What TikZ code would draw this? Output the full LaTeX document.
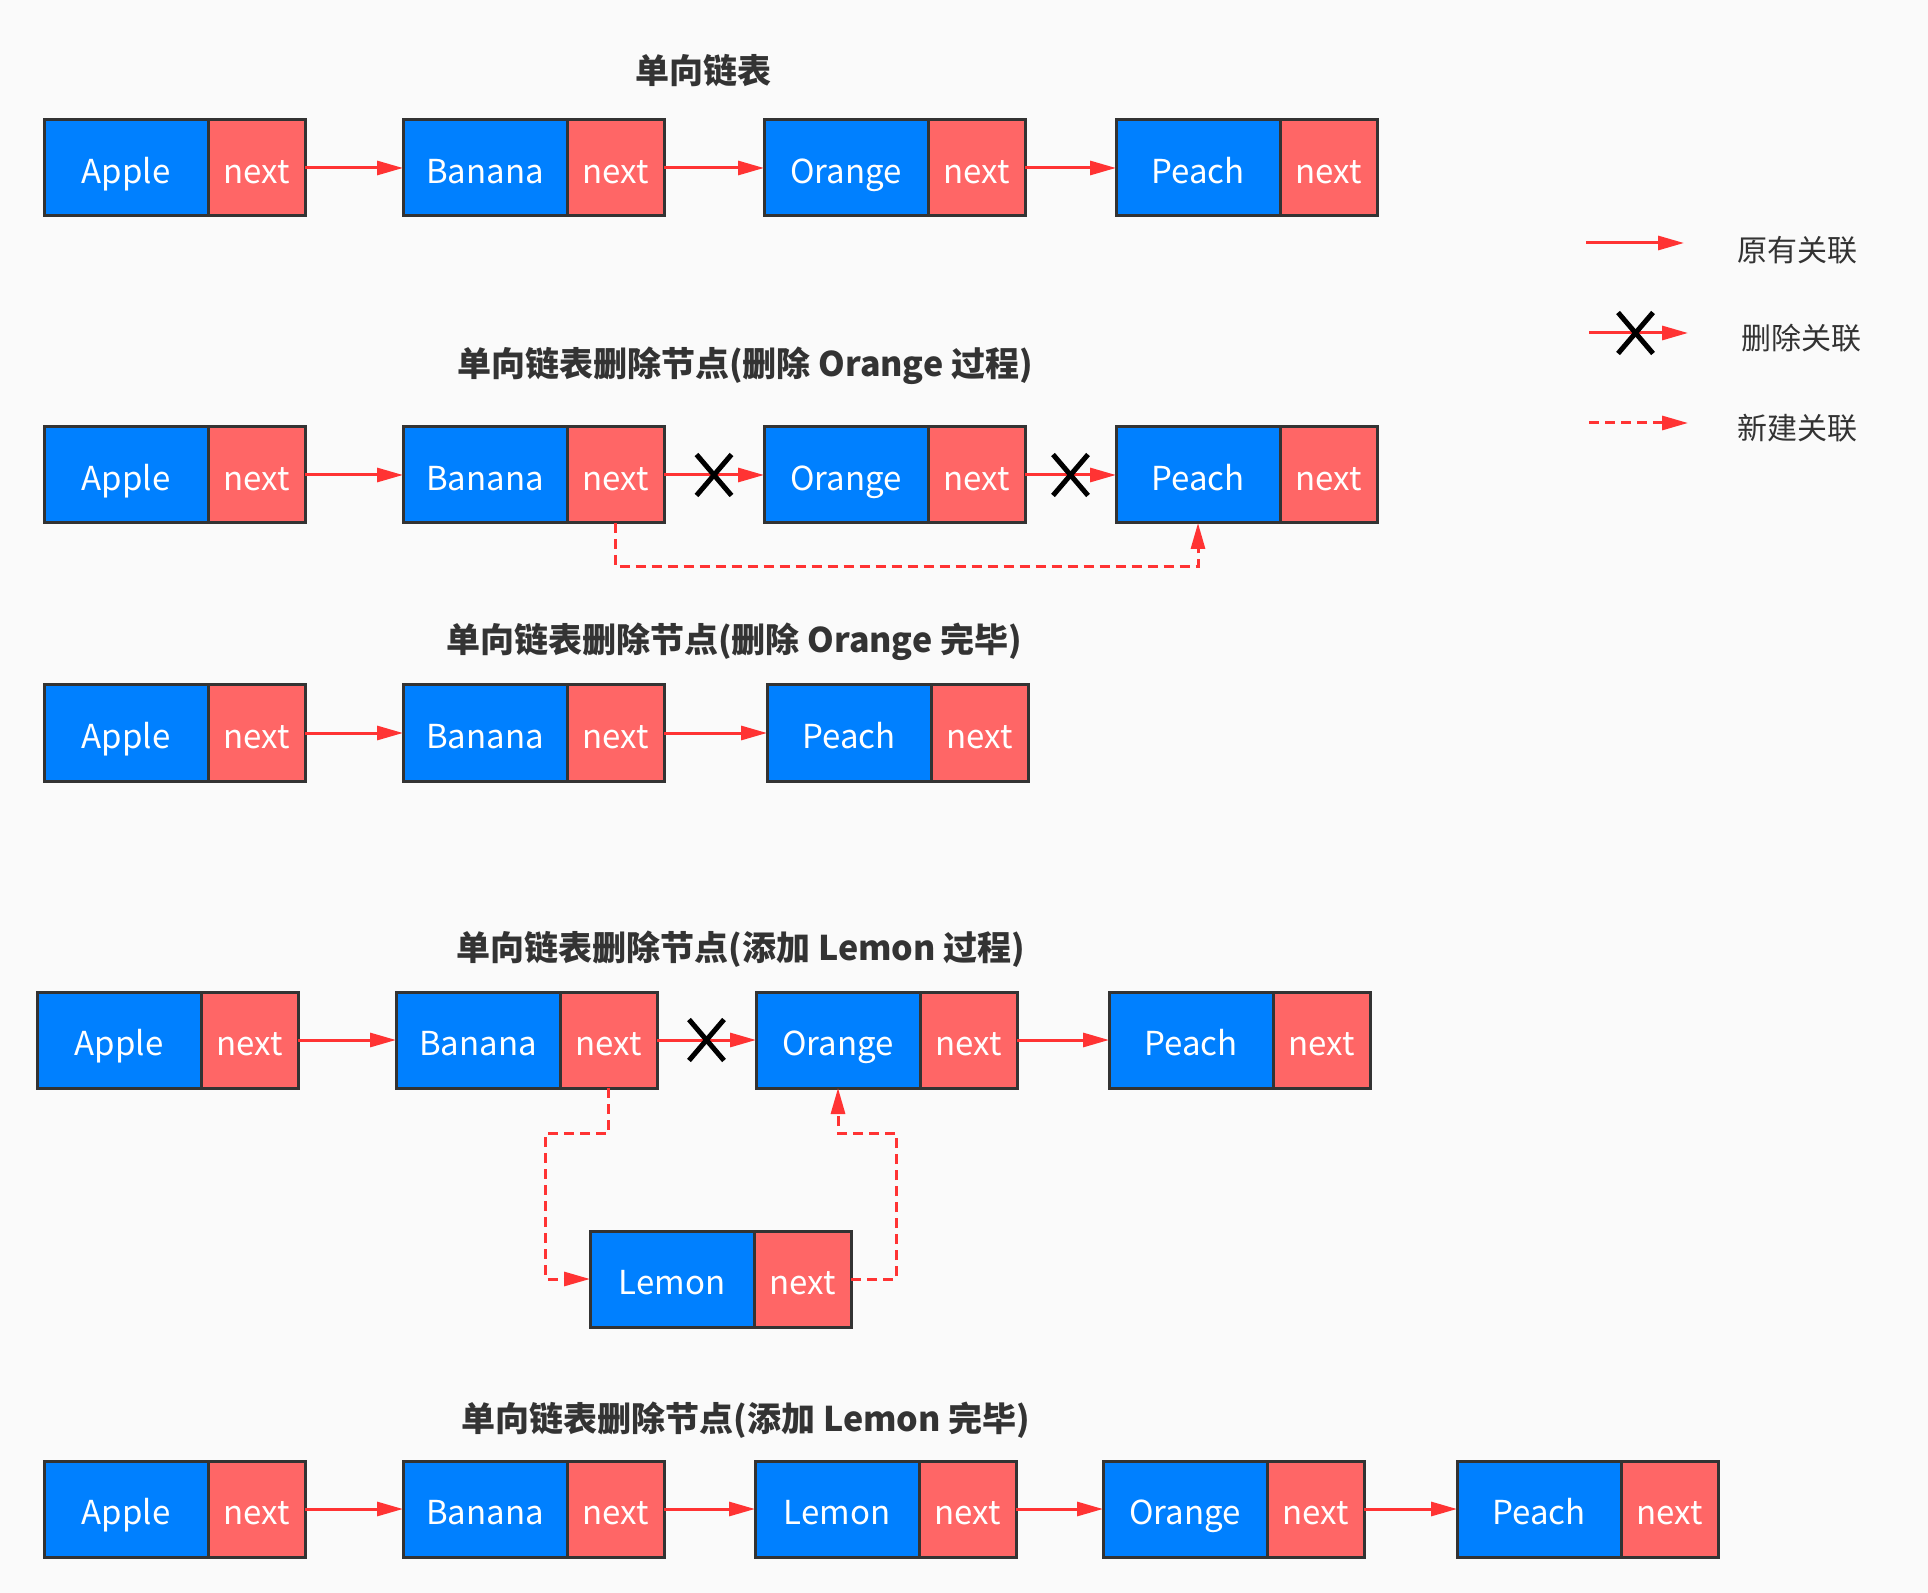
\documentclass[tikz,border=0pt]{standalone}
\usepackage{fontspec}
\setmainfont{Noto Sans CJK SC}
\usepackage{xcolor}
\usepackage{tikz}
\usetikzlibrary{arrows.meta}
\usetikzlibrary{positioning}
\usetikzlibrary{shapes.misc}
\definecolor{valcolor}{HTML}{0080FF}
\definecolor{nextcolor}{HTML}{FF6666}
\definecolor{linkcolor}{HTML}{FF3333}
\definecolor{edgecolor}{HTML}{333333}
\definecolor{bgcolor}{HTML}{FAFAFA}

\begin{document}
\begin{tikzpicture}[x=0.5pt,y=-0.5pt,
    val/.style={draw=edgecolor,fill=valcolor,line width=1.5pt,minimum width=82pt,minimum height=48pt,
      inner sep=0pt,outer sep=0pt,text=white,text height=16pt,text depth=0.5pt,font=\fontsize{16.5}{19}\selectfont},
    nxt/.style={val,fill=nextcolor,minimum width=48.5pt},
    link/.style={linkcolor,line width=1.5pt,-{Triangle[length=13pt,width=7pt]}},
    newlink/.style={link,dash pattern=on 5pt off 3pt},
    delx/.style={cross out,draw=black,line width=2.5pt,minimum width=15pt,minimum height=18pt,inner sep=0pt},
    ttl/.style={text=edgecolor,font=\bfseries\fontsize{17}{20}\selectfont},
    lgd/.style={text=edgecolor,font=\fontsize{15}{18}\selectfont}]
  \fill[bgcolor] (0,0) rectangle (1928,1593);
%% row 1
  \node[ttl] (t1) at (703,71) {单向链表};
  \foreach \t/\x [count=\i] in {Apple/44,Banana/403,Orange/764,Peach/1116} {
    \node[val,anchor=west] (r1v\i) at (\x,168) {\t};
    \node[nxt,right=0pt of r1v\i] (r1n\i) {next};
  }
  \foreach \i/\j in {1/2,2/3,3/4}
    \draw[link] (r1n\i) -- (r1v\j);
%% row 2
  \node[ttl] (t2) at (745,366) {单向链表删除节点(删除 Orange 过程)};
  \foreach \t/\x [count=\i] in {Apple/44,Banana/403,Orange/764,Peach/1116} {
    \node[val,anchor=west] (r2v\i) at (\x,475) {\t};
    \node[nxt,right=0pt of r2v\i] (r2n\i) {next};
  }
  \draw[link] (r2n1) -- (r2v2);
  \draw[link] (r2n2) -- node[delx] (x1) {} (r2v3);
  \draw[link] (r2n3) -- node[delx] (x2) {} (r2v4);
  \draw[newlink] (r2n2.south) -- ++(0,44) -| (r2v4.south);
%% row 3
  \node[ttl] (t3) at (734,642) {单向链表删除节点(删除 Orange 完毕)};
  \foreach \t/\x [count=\i] in {Apple/44,Banana/403,Peach/767} {
    \node[val,anchor=west] (r3v\i) at (\x,733) {\t};
    \node[nxt,right=0pt of r3v\i] (r3n\i) {next};
  }
  \foreach \i/\j in {1/2,2/3}
    \draw[link] (r3n\i) -- (r3v\j);
%% row 4
  \node[ttl] (t4) at (741,949) {单向链表删除节点(添加 Lemon 过程)};
  \foreach \t/\x [count=\i] in {Apple/37,Banana/396,Orange/756,Peach/1109} {
    \node[val,anchor=west] (r4v\i) at (\x,1040) {\t};
    \node[nxt,right=0pt of r4v\i] (r4n\i) {next};
  }
  \node[val,anchor=west] (lm) at (590,1279) {Lemon};
  \node[nxt,right=0pt of lm] (lmn) {next};
  \draw[link] (r4n1) -- (r4v2);
  \draw[link] (r4n2) -- node[delx] (x3) {} (r4v3);
  \draw[link] (r4n3) -- (r4v4);
  \draw[newlink] (r4n2.south) -- ++(0,45) -- ++(-63,0) |- (lm.west);
  \draw[newlink] (lmn.east) -- ++(45,0) -- ++(0,-146) -| (r4v3.south);
%% row 5
  \node[ttl] (t5) at (746,1420) {单向链表删除节点(添加 Lemon 完毕)};
  \foreach \t/\x [count=\i] in {Apple/44,Banana/403,Lemon/755,Orange/1103,Peach/1457} {
    \node[val,anchor=west] (r5v\i) at (\x,1509) {\t};
    \node[nxt,right=0pt of r5v\i] (r5n\i) {next};
  }
  \foreach \i/\j in {1/2,2/3,3/4,4/5}
    \draw[link] (r5n\i) -- (r5v\j);
%% legend
  \coordinate (k1a) at (1586,243);
  \coordinate (k1b) at (1684,243);
  \draw[link] (k1a) -- (k1b);
  \node[lgd] (k1) at (1797,250) {原有关联};
  \coordinate (k2a) at (1589,333);
  \coordinate (k2b) at (1688,333);
  \draw[link] (k2a) -- node[delx,pos=0.47] (x4) {} (k2b);
  \node[lgd] (k2) at (1801,338) {删除关联};
  \coordinate (k3a) at (1589,423);
  \coordinate (k3b) at (1688,423);
  \draw[newlink] (k3a) -- (k3b);
  \node[lgd] (k3) at (1797,428) {新建关联};
\end{tikzpicture}
\end{document}
